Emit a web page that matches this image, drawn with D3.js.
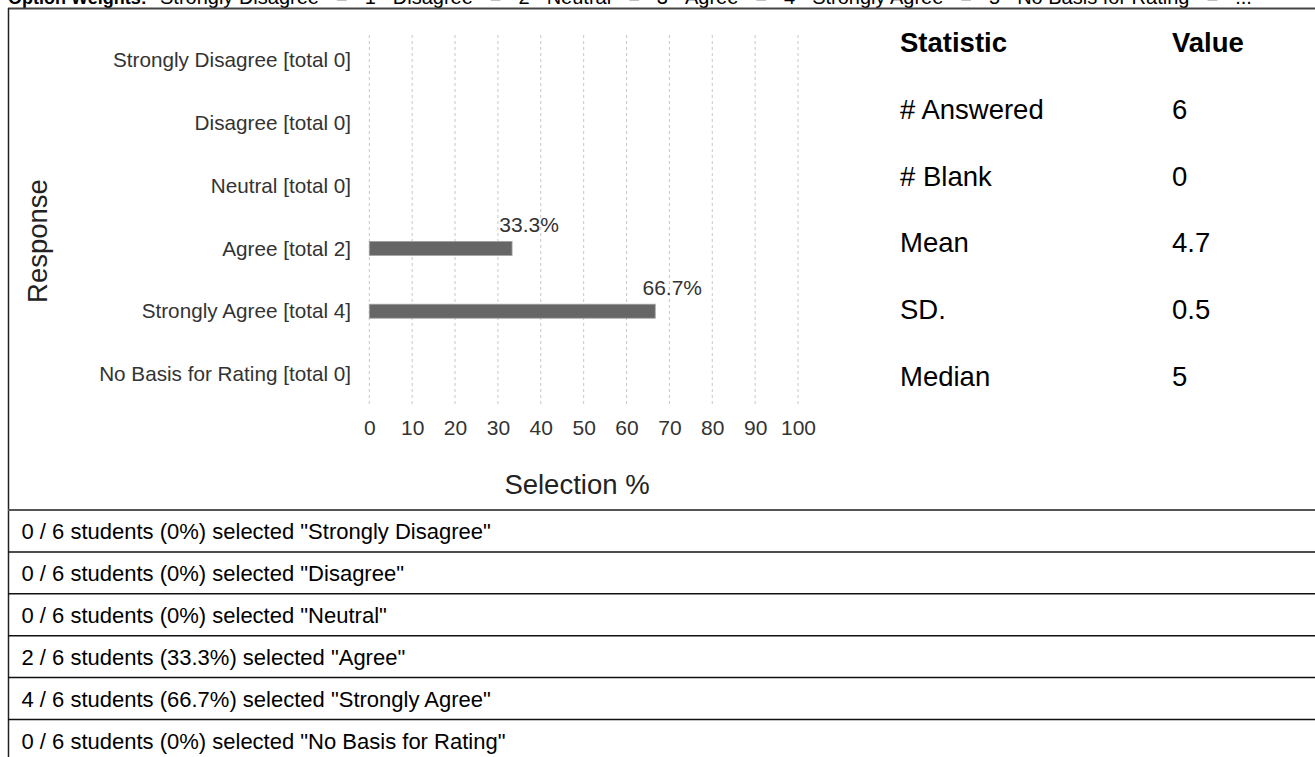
<!DOCTYPE html>
<html>
<head>
<meta charset="utf-8">
<script src="https://cdn.jsdelivr.net/npm/d3@7"></script>
<style>
  body { margin: 0; background: #fff; }
  svg { display: block; font-family: "Liberation Sans", Arial, sans-serif; }
</style>
</head>
<body>
<div id="chart"></div>
<script>
// survey data
var responses = ["Strongly Disagree", "Disagree", "Neutral", "Agree", "Strongly Agree", "No Basis for Rating"];
var counts = [0, 0, 0, 2, 4, 0];
var percents = [0, 0, 0, 33.3, 66.7, 0];
var xTicks = [0, 10, 20, 30, 40, 50, 60, 70, 80, 90, 100];
var weightLabels = ["Strongly Disagree", "Disagree", "Neutral", "Agree", "Strongly Agree", "No Basis for Rating"];
var weightValues = ["1", "2", "3", "4", "5", "..."];
var statNames = ["# Answered", "# Blank", "Mean", "SD.", "Median"];
var statValues = ["6", "0", "4.7", "0.5", "5"];
var totalStudents = 6;

var W = 1315, H = 757;
var svg = d3.select("#chart").append("svg").attr("width", W).attr("height", H);

// header line (cut off at top)
var header = svg.append("g").attr("class", "header");
var hx = 8;
var ht = header.append("text").attr("x", hx).attr("y", 4)
  .style("font-size", "18px").style("font-weight", "bold").text("Option Weights:");
hx = 160;
var gap = 17;
weightLabels.forEach(function (lab, i) {
  [lab, "=", weightValues[i]].forEach(function (s) {
    var t = header.append("text").attr("x", hx).attr("y", 4)
      .style("font-size", "20px").text(s);
    hx += t.node().getComputedTextLength() + gap;
  });
});

// borders
svg.append("line").attr("x1", 8).attr("x2", W).attr("y1", 8.5).attr("y2", 8.5)
  .style("stroke", "#444").style("stroke-width", 2);
svg.append("line").attr("x1", 8.5).attr("x2", 8.5).attr("y1", 8).attr("y2", H)
  .style("stroke", "#222").style("stroke-width", 1.5);
svg.append("line").attr("x1", 8).attr("x2", W).attr("y1", 510).attr("y2", 510)
  .style("stroke", "#555").style("stroke-width", 2);

// bar chart
var x = d3.scaleLinear().domain([0, 100]).range([369.3, 798]);
var y = d3.scalePoint().domain(responses).range([28.6, 405.4]).padding(0.5);
var barH = 14;

var grid = svg.append("g").attr("class", "grid");
grid.selectAll("line").data(xTicks).enter().append("line")
  .attr("x1", function (d) { return x(d); })
  .attr("x2", function (d) { return x(d); })
  .attr("y1", 35).attr("y2", 407)
  .style("stroke", "#c8c8c8").style("stroke-width", 1)
  .style("stroke-dasharray", "3,3");

var xAxis = svg.append("g").attr("transform", "translate(0,0)")
  .call(d3.axisBottom(x).tickValues(xTicks).tickSize(0).tickFormat(d3.format("d")));
xAxis.select(".domain").remove();
xAxis.selectAll("text").attr("y", 435).attr("dy", null)
  .style("font-size", "21px").style("font-family", "Liberation Sans, Arial, sans-serif")
  .style("fill", "#333");

var yAxis = svg.append("g").attr("transform", "translate(351,0)")
  .call(d3.axisLeft(y).tickSize(0).tickPadding(0)
    .tickFormat(function (d, i) { return d + " [total " + counts[i] + "]"; }));
yAxis.select(".domain").remove();
yAxis.selectAll("text").style("font-size", "20.7px")
  .style("font-family", "Liberation Sans, Arial, sans-serif").style("fill", "#333");

var data = responses.map(function (r, i) { return { name: r, pct: percents[i] }; });
var bars = data.filter(function (d) { return d.pct > 0; });

svg.selectAll(".bar").data(bars).enter().append("rect")
  .attr("class", "bar")
  .attr("x", x(0))
  .attr("y", function (d) { return y(d.name) - barH / 2; })
  .attr("width", function (d) { return x(d.pct) - x(0); })
  .attr("height", barH)
  .style("fill", "#666").style("stroke", "#a0a0a0").style("stroke-width", 0.8);

svg.selectAll(".val").data(bars).enter().append("text")
  .attr("class", "val")
  .attr("x", function (d) { return x(d.pct) + 17; })
  .attr("y", function (d) { return y(d.name) - 16.5; })
  .attr("text-anchor", "middle")
  .style("font-size", "21px").style("fill", "#333")
  .text(function (d) { return d.pct.toFixed(1) + "%"; });

svg.append("text").attr("x", 577).attr("y", 494).attr("text-anchor", "middle")
  .style("font-size", "27.5px").style("fill", "#222").text("Selection %");
svg.append("text").attr("transform", "translate(47,241) rotate(-90)")
  .attr("text-anchor", "middle")
  .style("font-size", "27.5px").style("fill", "#222").text("Response");

// statistics table
var sy = d3.scalePoint().domain(d3.range(statNames.length + 1)).range([52, 386]);
svg.append("text").attr("x", 900).attr("y", sy(0))
  .style("font-size", "27.5px").style("font-weight", "bold").text("Statistic");
svg.append("text").attr("x", 1172).attr("y", sy(0))
  .style("font-size", "27.5px").style("font-weight", "bold").text("Value");
statNames.forEach(function (s, i) {
  svg.append("text").attr("x", 900).attr("y", sy(i + 1))
    .style("font-size", "27.5px").text(s);
  svg.append("text").attr("x", 1172).attr("y", sy(i + 1))
    .style("font-size", "27.5px").text(statValues[i]);
});

// response rows
var ry = d3.scaleLinear().domain([0, responses.length]).range([510, 761.4]);
var rows = svg.selectAll(".row").data(responses).enter().append("g").attr("class", "row");
rows.filter(function (d, i) { return i > 0; }).append("line")
  .attr("x1", 8).attr("x2", W)
  .attr("y1", function (d) { return ry(responses.indexOf(d)); })
  .attr("y2", function (d) { return ry(responses.indexOf(d)); })
  .style("stroke", "#111").style("stroke-width", 1.5);
rows.append("text")
  .attr("x", 21.5)
  .attr("y", function (d, i) { return ry(i) + 29; })
  .style("font-size", "22px")
  .text(function (d, i) {
    return counts[i] + " / " + totalStudents + " students (" + percents[i] + "%) selected \"" + d + "\"";
  });
</script>
</body>
</html>
